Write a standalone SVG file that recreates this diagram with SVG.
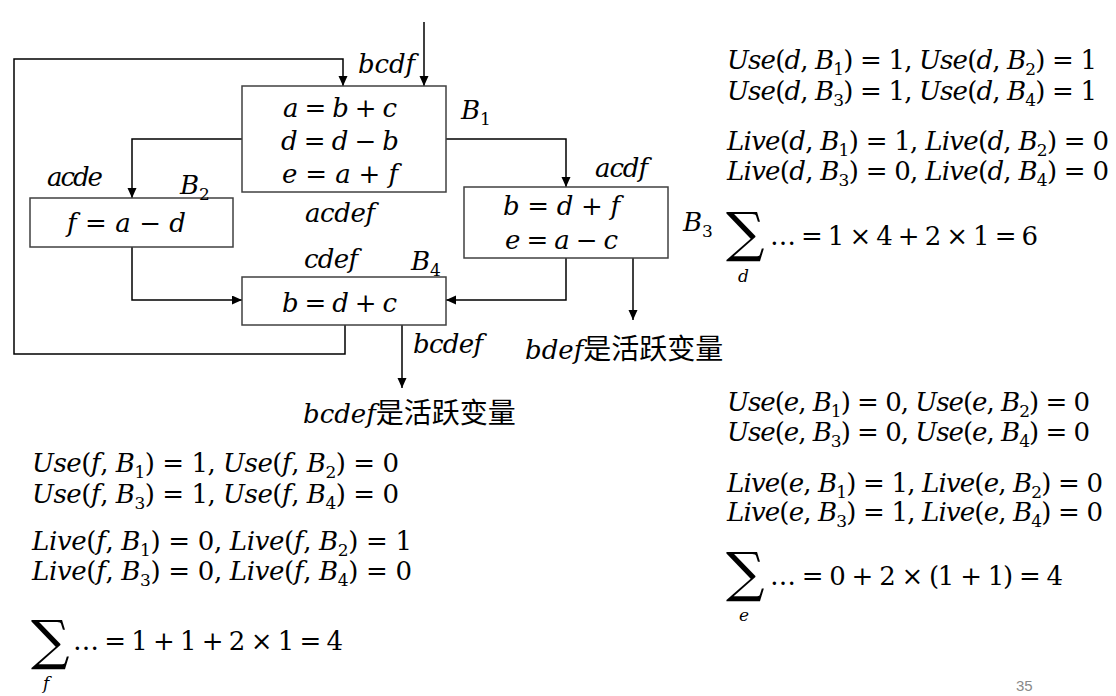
<svg xmlns="http://www.w3.org/2000/svg" width="1116" height="696" viewBox="0 0 1116 696">
<style>
.m{font-family:"DejaVu Serif","Liberation Serif",serif;font-size:26px;fill:#000}
.i{font-style:italic}
.s{font-size:17px}
.cjk{font-family:"Noto Sans CJK SC",sans-serif;font-style:normal;font-size:28px}
.sig{font-family:"DejaVu Serif",serif;font-size:54px}
.box{fill:#fff;stroke:#404040;stroke-width:1.5}
.conn path{fill:none;stroke:#000;stroke-width:1.5}
.arr{marker-end:url(#ah)}
.pg{font-family:"Liberation Sans",sans-serif;font-size:15px;fill:#8a8a8a}
</style>
<defs>
<marker id="ah" markerUnits="userSpaceOnUse" markerWidth="10" markerHeight="10" refX="10" refY="4.5" orient="auto">
<path d="M0,0 L10,4.5 L0,9 z" fill="#000"/>
</marker>
</defs>
<rect width="1116" height="696" fill="#fff"/>

<g id="connectors" class="conn">
<path class="arr" d="M424,22 V86"/>
<path class="arr" d="M345,325 V354 H14 V59 H343 V86"/>
<path class="arr" d="M242,139 H132 V198"/>
<path class="arr" d="M446,139 H566 V187"/>
<path class="arr" d="M132,247 V300 H242"/>
<path class="arr" d="M566,258 V300 H446"/>
<path class="arr" d="M633,258 V320"/>
<path class="arr" d="M402,325 V388"/>
</g>

<g id="B1">
<rect class="box" x="242" y="86" width="204" height="106"/>
<text class="m" x="283" y="117" textLength="114"><tspan class="i">a</tspan> = <tspan class="i">b</tspan> + <tspan class="i">c</tspan></text>
<text class="m" x="281" y="150" textLength="118"><tspan class="i">d</tspan> = <tspan class="i">d</tspan> − <tspan class="i">b</tspan></text>
<text class="m" x="282" y="183" textLength="116"><tspan class="i">e</tspan> = <tspan class="i">a</tspan> + <tspan class="i">f</tspan></text>
<text class="m" x="461" y="119"><tspan class="i">B</tspan><tspan class="s" dy="6">1</tspan></text>
</g>

<g id="B2">
<rect class="box" x="30" y="198" width="203" height="49"/>
<text class="m" x="67" y="232" textLength="119"><tspan class="i">f</tspan> = <tspan class="i">a</tspan> − <tspan class="i">d</tspan></text>
<text class="m" x="180" y="194"><tspan class="i">B</tspan><tspan class="s" dy="6">2</tspan></text>
</g>

<g id="B3">
<rect class="box" x="464" y="187" width="204" height="71"/>
<text class="m" x="503" y="215" textLength="117"><tspan class="i">b</tspan> = <tspan class="i">d</tspan> + <tspan class="i">f</tspan></text>
<text class="m" x="505" y="249" textLength="113"><tspan class="i">e</tspan> = <tspan class="i">a</tspan> − <tspan class="i">c</tspan></text>
<text class="m" x="683" y="231"><tspan class="i">B</tspan><tspan class="s" dy="6">3</tspan></text>
</g>

<g id="B4">
<rect class="box" x="242" y="277" width="204" height="48"/>
<text class="m" x="282" y="312" textLength="115"><tspan class="i">b</tspan> = <tspan class="i">d</tspan> + <tspan class="i">c</tspan></text>
<text class="m" x="411" y="270"><tspan class="i">B</tspan><tspan class="s" dy="6">4</tspan></text>
</g>

<g id="labels">
<text class="m i" x="358" y="73" textLength="57">bcdf</text>
<text class="m i" x="47" y="186" textLength="56">acde</text>
<text class="m i" x="305" y="222" textLength="70">acdef</text>
<text class="m i" x="595" y="177" textLength="53">acdf</text>
<text class="m i" x="304" y="268" textLength="54">cdef</text>
<text class="m i" x="413" y="353" textLength="70">bcdef</text>
<text class="m" x="525" y="359"><tspan class="i">bdef</tspan><tspan class="cjk">是活跃变量</tspan></text>
<text class="m" x="303" y="423"><tspan class="i">bcdef</tspan><tspan class="cjk">是活跃变量</tspan></text>
</g>

<g id="calc-d">
<text class="m" x="727" y="69" textLength="370"><tspan class="i">Use</tspan>(<tspan class="i">d</tspan>, <tspan class="i">B</tspan><tspan class="s" dy="6">1</tspan><tspan dy="-6">) = 1, </tspan><tspan class="i">Use</tspan>(<tspan class="i">d</tspan>, <tspan class="i">B</tspan><tspan class="s" dy="6">2</tspan><tspan dy="-6">) = 1</tspan></text>
<text class="m" x="727" y="100" textLength="370"><tspan class="i">Use</tspan>(<tspan class="i">d</tspan>, <tspan class="i">B</tspan><tspan class="s" dy="6">3</tspan><tspan dy="-6">) = 1, </tspan><tspan class="i">Use</tspan>(<tspan class="i">d</tspan>, <tspan class="i">B</tspan><tspan class="s" dy="6">4</tspan><tspan dy="-6">) = 1</tspan></text>
<text class="m" x="727" y="150" textLength="382"><tspan class="i">Live</tspan>(<tspan class="i">d</tspan>, <tspan class="i">B</tspan><tspan class="s" dy="6">1</tspan><tspan dy="-6">) = 1, </tspan><tspan class="i">Live</tspan>(<tspan class="i">d</tspan>, <tspan class="i">B</tspan><tspan class="s" dy="6">2</tspan><tspan dy="-6">) = 0</tspan></text>
<text class="m" x="727" y="180" textLength="382"><tspan class="i">Live</tspan>(<tspan class="i">d</tspan>, <tspan class="i">B</tspan><tspan class="s" dy="6">3</tspan><tspan dy="-6">) = 0, </tspan><tspan class="i">Live</tspan>(<tspan class="i">d</tspan>, <tspan class="i">B</tspan><tspan class="s" dy="6">4</tspan><tspan dy="-6">) = 0</tspan></text>
<text class="sig" x="726" y="251">∑</text>
<text class="m i s" x="738" y="282">d</text>
<text class="m" x="770" y="245" textLength="268">… = 1 × 4 + 2 × 1 = 6</text>
</g>

<g id="calc-e">
<text class="m" x="727" y="411" textLength="363"><tspan class="i">Use</tspan>(<tspan class="i">e</tspan>, <tspan class="i">B</tspan><tspan class="s" dy="6">1</tspan><tspan dy="-6">) = 0, </tspan><tspan class="i">Use</tspan>(<tspan class="i">e</tspan>, <tspan class="i">B</tspan><tspan class="s" dy="6">2</tspan><tspan dy="-6">) = 0</tspan></text>
<text class="m" x="727" y="441" textLength="363"><tspan class="i">Use</tspan>(<tspan class="i">e</tspan>, <tspan class="i">B</tspan><tspan class="s" dy="6">3</tspan><tspan dy="-6">) = 0, </tspan><tspan class="i">Use</tspan>(<tspan class="i">e</tspan>, <tspan class="i">B</tspan><tspan class="s" dy="6">4</tspan><tspan dy="-6">) = 0</tspan></text>
<text class="m" x="727" y="492" textLength="376"><tspan class="i">Live</tspan>(<tspan class="i">e</tspan>, <tspan class="i">B</tspan><tspan class="s" dy="6">1</tspan><tspan dy="-6">) = 1, </tspan><tspan class="i">Live</tspan>(<tspan class="i">e</tspan>, <tspan class="i">B</tspan><tspan class="s" dy="6">2</tspan><tspan dy="-6">) = 0</tspan></text>
<text class="m" x="727" y="521" textLength="376"><tspan class="i">Live</tspan>(<tspan class="i">e</tspan>, <tspan class="i">B</tspan><tspan class="s" dy="6">3</tspan><tspan dy="-6">) = 1, </tspan><tspan class="i">Live</tspan>(<tspan class="i">e</tspan>, <tspan class="i">B</tspan><tspan class="s" dy="6">4</tspan><tspan dy="-6">) = 0</tspan></text>
<text class="sig" x="726" y="591">∑</text>
<text class="m i s" x="739" y="621">e</text>
<text class="m" x="770" y="585" textLength="293">… = 0 + 2 × (1 + 1) = 4</text>
</g>

<g id="calc-f">
<text class="m" x="32" y="472" textLength="367"><tspan class="i">Use</tspan>(<tspan class="i">f</tspan>, <tspan class="i">B</tspan><tspan class="s" dy="6">1</tspan><tspan dy="-6">) = 1, </tspan><tspan class="i">Use</tspan>(<tspan class="i">f</tspan>, <tspan class="i">B</tspan><tspan class="s" dy="6">2</tspan><tspan dy="-6">) = 0</tspan></text>
<text class="m" x="32" y="503" textLength="367"><tspan class="i">Use</tspan>(<tspan class="i">f</tspan>, <tspan class="i">B</tspan><tspan class="s" dy="6">3</tspan><tspan dy="-6">) = 1, </tspan><tspan class="i">Use</tspan>(<tspan class="i">f</tspan>, <tspan class="i">B</tspan><tspan class="s" dy="6">4</tspan><tspan dy="-6">) = 0</tspan></text>
<text class="m" x="32" y="550" textLength="380"><tspan class="i">Live</tspan>(<tspan class="i">f</tspan>, <tspan class="i">B</tspan><tspan class="s" dy="6">1</tspan><tspan dy="-6">) = 0, </tspan><tspan class="i">Live</tspan>(<tspan class="i">f</tspan>, <tspan class="i">B</tspan><tspan class="s" dy="6">2</tspan><tspan dy="-6">) = 1</tspan></text>
<text class="m" x="32" y="580" textLength="380"><tspan class="i">Live</tspan>(<tspan class="i">f</tspan>, <tspan class="i">B</tspan><tspan class="s" dy="6">3</tspan><tspan dy="-6">) = 0, </tspan><tspan class="i">Live</tspan>(<tspan class="i">f</tspan>, <tspan class="i">B</tspan><tspan class="s" dy="6">4</tspan><tspan dy="-6">) = 0</tspan></text>
<text class="sig" x="31" y="659">∑</text>
<text class="m i s" x="43" y="689">f</text>
<text class="m" x="73" y="650" textLength="270">… = 1 + 1 + 2 × 1 = 4</text>
</g>

<text class="pg" x="1016" y="691">35</text>
</svg>
